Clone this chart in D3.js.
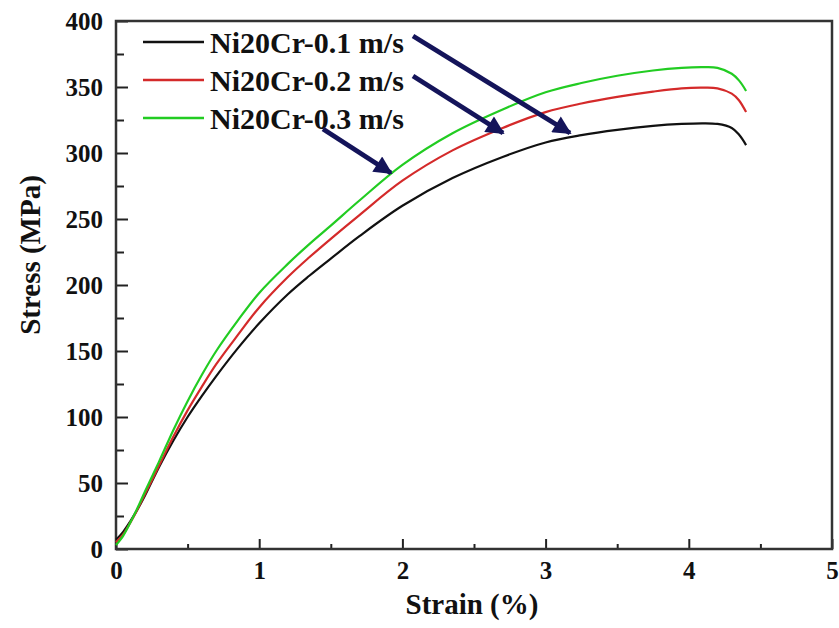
<!DOCTYPE html>
<html>
<head>
<meta charset="utf-8">
<script src="https://cdn.jsdelivr.net/npm/d3@7"></script>
<style>
  html, body { margin: 0; padding: 0; background: #fff; }
  svg { display: block; }
  text { font-family: "Liberation Serif", "Times New Roman", serif; font-weight: bold; fill: #111; }
</style>
</head>
<body>
<svg id="chart" width="839" height="628"></svg>
<script>
// ---- data ----
const strain = [0, 0.05, 0.1, 0.15, 0.2, 0.3, 0.4, 0.5, 0.6, 0.7, 0.85, 1.0, 1.2, 1.35, 1.5, 1.7, 2.0, 2.35, 2.7, 3.0, 3.25, 3.5, 3.75, 3.95, 4.1, 4.2, 4.3, 4.35, 4.4];
const stress01 = [7, 13, 21, 30, 40, 62, 82, 100, 116, 131, 152, 171, 193, 207, 220, 237, 260, 281, 297, 308, 313.5, 317.5, 320.5, 322, 322.5, 322, 319, 314, 306];
const stress02 = [5, 11, 20, 30, 41, 63, 85, 105, 123, 140, 162, 183, 206, 221, 235, 253, 279, 302, 319, 331, 337.5, 342.5, 346.5, 349, 349.5, 349, 345, 340, 331];
const stress03 = [3, 10, 20, 31, 43, 66, 90, 112, 132, 150, 173, 194, 216, 231, 245, 264, 291, 315, 333, 346, 353, 358.5, 362.5, 364.5, 365, 364.5, 360, 355, 347];
const seriesNames = ["Ni20Cr-0.1 m/s", "Ni20Cr-0.2 m/s", "Ni20Cr-0.3 m/s"];
const seriesColors = ["#111111", "#d42a2a", "#22cc22"];
const xTicks = [0, 1, 2, 3, 4, 5];
const xMinorTicks = [0.5, 1.5, 2.5, 3.5, 4.5];
const yTicks = [0, 50, 100, 150, 200, 250, 300, 350, 400];
const yMinorTicks = [25, 75, 125, 175, 225, 275, 325, 375];
const xTitle = "Strain (%)";
const yTitle = "Stress (MPa)";

const series = [stress01, stress02, stress03].map((vals, i) => ({
  name: seriesNames[i], color: seriesColors[i],
  points: strain.map((s, j) => [s, vals[j]])
}));

// ---- layout ----
const svg = d3.select("#chart");
const L = 116, R = 832, T = 21, B = 549;
const x = d3.scaleLinear().domain([0, 5]).range([L, R]);
const y = d3.scaleLinear().domain([0, 400]).range([B, T]);

// axes
const xAxis = svg.append("g").attr("transform", `translate(0,${B})`)
  .call(d3.axisBottom(x).tickValues(xTicks).tickFormat(d3.format("d"))
    .tickSizeInner(-10).tickSizeOuter(0).tickPadding(12));
const xMinor = svg.append("g").attr("transform", `translate(0,${B})`)
  .call(d3.axisBottom(x).tickValues(xMinorTicks).tickFormat("")
    .tickSizeInner(-5).tickSizeOuter(0));
const yAxis = svg.append("g").attr("transform", `translate(${L},0)`)
  .call(d3.axisLeft(y).tickValues(yTicks).tickFormat(d3.format("d"))
    .tickSizeInner(-12).tickSizeOuter(0).tickPadding(13));
const yMinor = svg.append("g").attr("transform", `translate(${L},0)`)
  .call(d3.axisLeft(y).tickValues(yMinorTicks).tickFormat("")
    .tickSizeInner(-8).tickSizeOuter(0));

[xAxis, xMinor, yAxis, yMinor].forEach(g => {
  g.select(".domain").remove();
  g.selectAll("line").attr("stroke", "#222").attr("stroke-width", 2);
  g.selectAll("text").attr("font-size", 25)
    .attr("font-family", '"Liberation Serif", "Times New Roman", serif')
    .attr("font-weight", "bold").attr("fill", "#111");
});

// frame
svg.append("rect").attr("x", L).attr("y", T).attr("width", R - L).attr("height", B - T)
  .attr("fill", "none").attr("stroke", "#333").attr("stroke-width", 2.5);

// axis titles
svg.append("text").attr("x", (L + R) / 2 - 2).attr("y", 614).attr("text-anchor", "middle")
  .attr("font-size", 29).text(xTitle);
svg.append("text").attr("transform", `translate(40,${(T + B) / 2 - 30}) rotate(-90)`)
  .attr("text-anchor", "middle").attr("font-size", 29).text(yTitle);

// curves
const line = d3.line().x(d => x(d[0])).y(d => y(d[1])).curve(d3.curveCatmullRom.alpha(0.5));
svg.append("g").selectAll("path").data(series).join("path")
  .attr("d", d => line(d.points))
  .attr("fill", "none").attr("stroke", d => d.color).attr("stroke-width", 2.2)
  .attr("stroke-linejoin", "round");

// legend
const leg = svg.append("g");
series.forEach((s, i) => {
  const yy = 42 + i * 38;
  leg.append("line").attr("x1", 143).attr("x2", 204).attr("y1", yy).attr("y2", yy)
    .attr("stroke", s.color).attr("stroke-width", 2.5);
  leg.append("text").attr("x", 210).attr("y", yy + 11).attr("font-size", 30).text(s.name);
});

// arrows
const arrowColor = "#14145a";
const defs = svg.append("defs");
defs.append("marker").attr("id", "ah").attr("viewBox", "0 0 10 10")
  .attr("refX", 9).attr("refY", 5).attr("markerWidth", 4.2).attr("markerHeight", 3.8)
  .attr("markerUnits", "strokeWidth").attr("orient", "auto")
  .append("path").attr("d", "M0,0 L10,5 L0,10 Z").attr("fill", arrowColor);
const arrows = [
  [[413, 36], [570, 133]],
  [[413, 76], [503, 133]],
  [[323, 129], [391, 173]]
];
svg.append("g").selectAll("line").data(arrows).join("line")
  .attr("x1", d => d[0][0]).attr("y1", d => d[0][1])
  .attr("x2", d => d[1][0]).attr("y2", d => d[1][1])
  .attr("stroke", arrowColor).attr("stroke-width", 4.8)
  .attr("marker-end", "url(#ah)");
</script>
</body>
</html>
